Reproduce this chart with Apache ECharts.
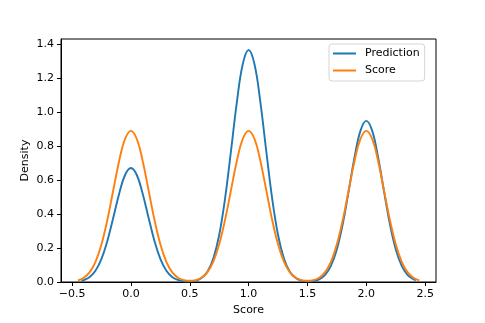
<!DOCTYPE html>
<html>
<head>
<meta charset="utf-8">
<script src="https://cdn.jsdelivr.net/npm/echarts@6/dist/echarts.min.js"></script>
<style>html,body{margin:0;padding:0;background:#fff}#c{width:485px;height:323px}</style>
</head>
<body>
<div id="c"></div>
<script>
const xTicks = [-0.5, 0.0, 0.5, 1.0, 1.5, 2.0, 2.5];
const yTicks = [0.0, 0.2, 0.4, 0.6, 0.8, 1.0, 1.2, 1.4];

const predictionX = [-0.42, -0.40, -0.35, -0.30, -0.25, -0.20, -0.15, -0.10, -0.05, 0.00,
  0.05, 0.10, 0.15, 0.20, 0.25, 0.30, 0.35, 0.40, 0.45, 0.50,
  0.55, 0.60, 0.65, 0.70, 0.75, 0.80, 0.85, 0.90, 0.95, 1.00,
  1.05, 1.10, 1.15, 1.20, 1.25, 1.30, 1.35, 1.40, 1.45, 1.50,
  1.55, 1.60, 1.65, 1.70, 1.75, 1.80, 1.85, 1.90, 1.95, 2.00,
  2.05, 2.10, 2.15, 2.20, 2.25, 2.30, 2.35, 2.40, 2.42];
const predictionY = [0.007, 0.011, 0.030, 0.068, 0.136, 0.242, 0.378, 0.520, 0.630, 0.671,
  0.630, 0.520, 0.378, 0.242, 0.136, 0.068, 0.030, 0.012, 0.004, 0.0035,
  0.008, 0.023, 0.060, 0.138, 0.277, 0.492, 0.770, 1.058, 1.282, 1.366,
  1.282, 1.058, 0.770, 0.492, 0.277, 0.138, 0.060, 0.023, 0.008, 0.004,
  0.006, 0.016, 0.042, 0.096, 0.193, 0.342, 0.535, 0.735, 0.890, 0.949,
  0.890, 0.735, 0.535, 0.342, 0.193, 0.096, 0.042, 0.016, 0.010];

const scoreX = [-0.45, -0.40, -0.35, -0.30, -0.25, -0.20, -0.15, -0.10, -0.05, 0.00,
  0.05, 0.10, 0.15, 0.20, 0.25, 0.30, 0.35, 0.40, 0.45, 0.50,
  0.55, 0.60, 0.65, 0.70, 0.75, 0.80, 0.85, 0.90, 0.95, 1.00,
  1.05, 1.10, 1.15, 1.20, 1.25, 1.30, 1.35, 1.40, 1.45, 1.50,
  1.55, 1.60, 1.65, 1.70, 1.75, 1.80, 1.85, 1.90, 1.95, 2.00,
  2.05, 2.10, 2.15, 2.20, 2.25, 2.30, 2.35, 2.40, 2.45];
const scoreY = [0.010, 0.025, 0.058, 0.120, 0.222, 0.366, 0.540, 0.713, 0.842, 0.890,
  0.842, 0.713, 0.540, 0.366, 0.222, 0.120, 0.058, 0.025, 0.011, 0.007,
  0.011, 0.025, 0.058, 0.120, 0.222, 0.366, 0.540, 0.713, 0.842, 0.890,
  0.842, 0.713, 0.540, 0.366, 0.222, 0.120, 0.058, 0.025, 0.011, 0.007,
  0.011, 0.025, 0.058, 0.120, 0.222, 0.366, 0.540, 0.713, 0.842, 0.890,
  0.842, 0.713, 0.540, 0.366, 0.222, 0.120, 0.058, 0.025, 0.010];

const pairs = (xs, ys) => xs.map((x, i) => [x, ys[i]]);
const font = 'DejaVu Sans';

const chart = echarts.init(document.getElementById('c'), null, {renderer: 'canvas'});
chart.setOption({
  animation: false,
  backgroundColor: '#fff',
  grid: {left: 61, top: 39, width: 375, height: 243, show: true, borderColor: '#000', borderWidth: 1, backgroundColor: 'transparent'},
  legend: {
    orient: 'vertical', left: 329, top: 44,
    data: ['Prediction', 'Score'],
    icon: 'rect', itemWidth: 23, itemHeight: 2, itemGap: 4,
    padding: [3, 5, 4, 4],
    borderColor: '#d5d5d5', borderWidth: 1, borderRadius: 3, backgroundColor: 'rgba(255,255,255,0.8)',
    textStyle: {fontFamily: font, fontSize: 11, color: '#000', padding: [0, 0, 0, 4], lineHeight: 13}
  },
  xAxis: {
    type: 'value', min: -0.594, max: 2.592,
    name: 'Score', nameLocation: 'middle', nameGap: 23, nameMoveOverlap: false,
    nameTextStyle: {fontFamily: font, fontSize: 11, color: '#000'},
    axisLine: {show: true, onZero: false, lineStyle: {color: '#000', width: 1}},
    axisTick: {show: true, length: 4, customValues: xTicks, lineStyle: {color: '#000'}},
    axisLabel: {customValues: xTicks, margin: 7, fontFamily: font, fontSize: 11, color: '#000',
      formatter: v => (v < 0 ? '\u2212' : '') + Math.abs(v).toFixed(1)},
    splitLine: {show: false}
  },
  yAxis: {
    type: 'value', min: 0, max: 1.431,
    name: 'Density', nameLocation: 'middle', nameGap: 30, nameMoveOverlap: false,
    nameTextStyle: {fontFamily: font, fontSize: 11, color: '#000'},
    axisLine: {show: true, onZero: false, lineStyle: {color: '#000', width: 1}},
    axisTick: {show: true, length: 4, customValues: yTicks, lineStyle: {color: '#000'}},
    axisLabel: {customValues: yTicks, margin: 7, fontFamily: font, fontSize: 11, color: '#000',
      formatter: v => v.toFixed(1)},
    splitLine: {show: false}
  },
  series: [
    {name: 'Prediction', type: 'line', data: pairs(predictionX, predictionY), showSymbol: false, symbol: 'none', smooth: 0.4,
      lineStyle: {color: '#1f77b4', width: 1.9}, itemStyle: {color: '#1f77b4'}},
    {name: 'Score', type: 'line', data: pairs(scoreX, scoreY), showSymbol: false, symbol: 'none', smooth: 0.4,
      lineStyle: {color: '#ff7f0e', width: 1.9}, itemStyle: {color: '#ff7f0e'}}
  ]
});
</script>
</body>
</html>
